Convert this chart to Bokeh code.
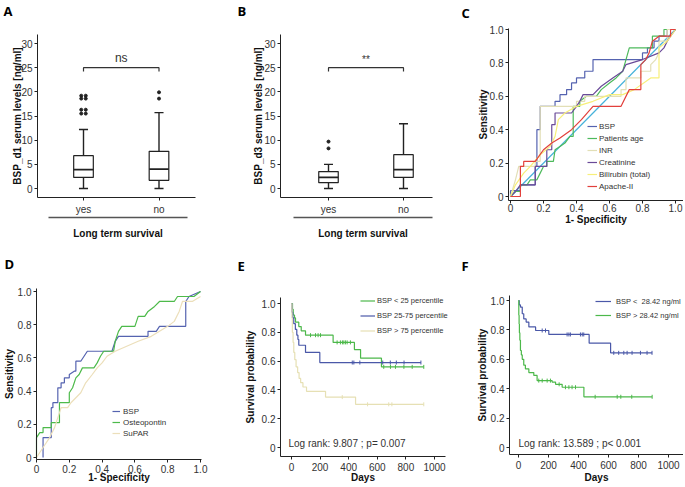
import numpy as np
from bokeh.plotting import figure
from bokeh.layouts import row, column
from bokeh.models import Range1d, LinearAxis, FixedTicker, Legend, LegendItem, Label
from bokeh.embed import file_html
from bokeh.resources import INLINE

FONT = "Liberation Sans"
LFONT = "Open Sans"
INK = "#222222"

# ---------------- data: A / B box plots ----------------
groups = ["yes", "no"]
a_low = [0.0, 0.0]
a_q1 = [2.3, 1.7]
a_med = [3.9, 4.0]
a_q3 = [6.8, 7.7]
a_high = [12.2, 15.7]
a_out_yes = [15.5, 16.3, 18.6, 19.2]
a_out_no = [18.6, 19.9]

b_low = [0.0, 0.0]
b_q1 = [1.2, 2.3]
b_med = [2.3, 3.9]
b_q3 = [3.5, 7.0]
b_high = [5.0, 13.4]
b_out_yes = [8.3, 9.7]
b_out_no = []
box_ticks = [0, 5, 10, 15, 20, 25, 30]

# ---------------- data: C ROC ----------------
c_bsp = [(0, 0), (0, 0.035), (0.06, 0.035), (0.06, 0.07), (0.15, 0.07), (0.15, 0.18), (0.16, 0.18),
         (0.16, 0.4), (0.18, 0.4), (0.18, 0.54), (0.27, 0.54), (0.27, 0.57), (0.3, 0.57), (0.3, 0.61),
         (0.34, 0.61), (0.34, 0.64), (0.37, 0.64), (0.37, 0.68), (0.4, 0.68), (0.4, 0.71), (0.45, 0.71),
         (0.45, 0.75), (0.5, 0.75), (0.5, 0.82), (0.8, 0.82), (0.8, 0.86), (0.83, 0.86), (0.83, 0.89),
         (0.87, 0.89), (0.87, 0.93), (0.9, 0.93), (0.9, 0.96), (0.95, 0.96), (0.95, 1.0), (1.0, 1.0)]
c_age = [(0, 0), (0.03, 0.03), (0.06, 0.03), (0.06, 0.07), (0.1, 0.07), (0.12, 0.1), (0.16, 0.1),
         (0.18, 0.14), (0.2, 0.18), (0.22, 0.18), (0.22, 0.21), (0.26, 0.21), (0.27, 0.28), (0.3, 0.3),
         (0.33, 0.32), (0.36, 0.36), (0.38, 0.36), (0.38, 0.54), (0.42, 0.54), (0.42, 0.57), (0.46, 0.6),
         (0.52, 0.6), (0.55, 0.64), (0.6, 0.68), (0.64, 0.71), (0.68, 0.75), (0.7, 0.82), (0.72, 0.89),
         (0.86, 0.89), (0.86, 0.96), (0.93, 0.96), (0.93, 1.0), (1.0, 1.0)]
c_inr = [(0, 0), (0.03, 0.1), (0.05, 0.18), (0.15, 0.18), (0.15, 0.21), (0.18, 0.21), (0.18, 0.54),
         (0.4, 0.54), (0.4, 0.57), (0.45, 0.57), (0.45, 0.6), (0.67, 0.6), (0.67, 0.64), (0.7, 0.64),
         (0.7, 0.71), (0.79, 0.71), (0.79, 0.75), (0.85, 0.75), (0.85, 0.79), (0.88, 0.82), (0.9, 0.86),
         (0.9, 0.93), (0.95, 0.93), (0.95, 1.0), (1.0, 1.0)]
c_crea = [(0, 0), (0.03, 0.03), (0.06, 0.07), (0.15, 0.07), (0.15, 0.18), (0.22, 0.18), (0.22, 0.28),
          (0.25, 0.28), (0.25, 0.43), (0.27, 0.43), (0.27, 0.5), (0.37, 0.5), (0.4, 0.54), (0.42, 0.57),
          (0.44, 0.61), (0.5, 0.61), (0.55, 0.66), (0.62, 0.71), (0.68, 0.75), (0.7, 0.79), (0.8, 0.82),
          (0.9, 0.86), (0.93, 0.89), (0.95, 0.93), (0.97, 0.96), (1.0, 1.0)]
c_bili = [(0, 0), (0.03, 0.07), (0.08, 0.14), (0.12, 0.18), (0.18, 0.25), (0.24, 0.3), (0.27, 0.36),
          (0.29, 0.46), (0.33, 0.5), (0.4, 0.54), (0.5, 0.57), (0.6, 0.61), (0.68, 0.61), (0.75, 0.64),
          (0.85, 0.71), (0.9, 0.71), (0.9, 0.89), (0.95, 0.93), (1.0, 1.0)]
c_apache = [(0, 0), (0.06, 0), (0.06, 0.18), (0.08, 0.18), (0.08, 0.21), (0.15, 0.21), (0.2, 0.28),
            (0.25, 0.32), (0.3, 0.35), (0.37, 0.4), (0.43, 0.46), (0.5, 0.54), (0.67, 0.54), (0.72, 0.64),
            (0.79, 0.64), (0.79, 0.79), (0.82, 0.82), (0.84, 0.86), (0.86, 0.93), (0.9, 0.96), (0.97, 0.96),
            (0.97, 1.0), (1.0, 1.0)]
c_ref = [(0, 0), (1, 1)]
c_names = ["BSP", "Patients age", "INR", "Creatinine", "Bilirubin (total)", "Apache-II"]

# ---------------- data: D ROC ----------------
d_bsp = [(0.04, 0), (0.04, 0.12), (0.09, 0.12), (0.09, 0.3), (0.1, 0.3), (0.1, 0.33), (0.13, 0.33),
         (0.13, 0.42), (0.15, 0.42), (0.15, 0.45), (0.17, 0.45), (0.17, 0.48), (0.2, 0.48), (0.2, 0.5),
         (0.23, 0.52), (0.24, 0.52), (0.24, 0.58), (0.27, 0.58), (0.29, 0.61), (0.31, 0.64), (0.46, 0.64),
         (0.48, 0.7), (0.5, 0.73), (0.68, 0.73), (0.68, 0.76), (0.73, 0.76), (0.75, 0.79), (0.91, 0.79),
         (0.91, 0.94), (0.93, 0.97), (1.0, 1.0)]
d_opn = [(0, 0), (0, 0.12), (0.02, 0.15), (0.04, 0.15), (0.04, 0.18), (0.09, 0.18), (0.09, 0.21),
         (0.14, 0.21), (0.14, 0.33), (0.2, 0.33), (0.2, 0.39), (0.22, 0.42), (0.24, 0.48), (0.26, 0.5),
         (0.28, 0.54), (0.35, 0.54), (0.37, 0.57), (0.39, 0.61), (0.41, 0.64), (0.47, 0.64), (0.48, 0.7),
         (0.5, 0.76), (0.52, 0.79), (0.6, 0.79), (0.62, 0.85), (0.66, 0.85), (0.68, 0.88), (0.72, 0.91),
         (0.75, 0.94), (0.84, 0.94), (0.86, 0.97), (0.96, 0.97), (1.0, 1.0)]
d_supar = [(0, 0), (0.04, 0.06), (0.08, 0.12), (0.11, 0.18), (0.13, 0.24), (0.15, 0.3), (0.19, 0.3),
           (0.21, 0.33), (0.24, 0.36), (0.27, 0.39), (0.3, 0.45), (0.34, 0.5), (0.37, 0.54), (0.4, 0.57),
           (0.43, 0.61), (0.48, 0.64), (0.55, 0.67), (0.62, 0.7), (0.7, 0.73), (0.75, 0.76), (0.8, 0.79),
           (0.84, 0.82), (0.87, 0.88), (0.89, 0.94), (0.95, 0.94), (1.0, 0.97)]
d_names = ["BSP", "Osteopontin", "SuPAR"]
roc_ticks = [0, 0.2, 0.4, 0.6, 0.8, 1.0]

# ---------------- data: E Kaplan-Meier (days, survival) ----------------
e_g_t = [0, 7, 12, 21, 28, 51, 68, 98, 291, 440, 483, 629, 925]
e_g_s = [1.0, 0.96, 0.92, 0.9, 0.87, 0.84, 0.81, 0.78, 0.73, 0.68, 0.62, 0.56, 0.56]
e_g_c = [133, 168, 186, 203, 319, 342, 356, 366, 377, 389, 412, 645, 692, 727, 786, 844, 925]
e_b_t = [0, 3, 9, 16, 27, 37, 45, 51, 98, 198, 905]
e_b_s = [1.0, 0.94, 0.9, 0.86, 0.82, 0.78, 0.75, 0.71, 0.66, 0.59, 0.59]
e_b_c = [425, 436, 478, 638, 691, 733, 787, 905]
e_y_t = [0, 3, 6, 11, 16, 23, 32, 43, 53, 64, 80, 105, 238, 448, 925]
e_y_s = [1.0, 0.9, 0.8, 0.73, 0.66, 0.61, 0.56, 0.52, 0.48, 0.45, 0.42, 0.39, 0.35, 0.3, 0.3]
e_y_c = [355, 532, 680, 702, 925]
e_names = ["BSP < 25 percentile", "BSP 25-75 percentile", "BSP > 75 percentile"]

# ---------------- data: F Kaplan-Meier ----------------
f_b_t = [0, 5, 13, 25, 35, 51, 69, 114, 202, 471, 614, 891]
f_b_s = [1.0, 0.97, 0.955, 0.91, 0.875, 0.853, 0.82, 0.796, 0.769, 0.71, 0.644, 0.644]
f_b_c = [158, 180, 324, 336, 346, 413, 425, 435, 635, 668, 702, 724, 757, 813, 857, 890]
f_g_t = [0, 2, 4, 6, 9, 13, 19, 25, 35, 46, 69, 102, 124, 224, 247, 291, 436, 891]
f_g_s = [1.0, 0.9, 0.84, 0.78, 0.73, 0.66, 0.63, 0.6, 0.56, 0.535, 0.51, 0.49, 0.455, 0.445, 0.43,
         0.41, 0.345, 0.345]
f_g_c = [135, 158, 191, 213, 271, 313, 336, 357, 380, 511, 658, 682, 755, 891]
f_names = ["BSP <  28.42 ng/ml", "BSP > 28.42 ng/ml"]
km_xticks = [0, 200, 400, 600, 800, 1000]


# ---------------- layout geometry (page pixels) ----------------
class Geo:
    """Maps page pixels to data units for one panel whose canvas is its plot frame."""

    def __init__(self, ox, oy, w, h, x0, bx, y0, by):
        self.ox, self.oy, self.w, self.h = ox, oy, w, h
        self.x0, self.bx, self.y0, self.by = x0, bx, y0, by

    def xd(self, px):
        return (px - self.x0) / self.bx

    def yd(self, py):
        return (self.y0 - py) / self.by

    def xr(self):
        return (self.xd(self.ox), self.xd(self.ox + self.w))

    def yr(self):
        return (self.yd(self.oy + self.h), self.yd(self.oy))


gA = Geo(0, 0, 225, 248, 7.5, 75.5, 188, 145 / 30)
gB = Geo(225, 0, 229, 248, 253, 75, 188, 145 / 30)
gC = Geo(454, 0, 229, 248, 510, 165, 196, 167)
gD = Geo(0, 248, 225, 237, 36, 164, 457, 166)
gE = Geo(225, 248, 229, 237, 291, 0.143, 447, 144)
gF = Geo(454, 248, 229, 237, 518, 0.15, 447, 147)


def make(g):
    p = figure(width=g.w, height=g.h, x_range=Range1d(*g.xr()), y_range=Range1d(*g.yr()),
               output_backend="svg", toolbar_location=None, title=None, min_border=0)
    p.min_border_left = p.min_border_right = p.min_border_top = p.min_border_bottom = 0
    p.xgrid.visible = False
    p.ygrid.visible = False
    p.outline_line_color = None
    return p


def style_axis(ax, s1, s2):
    ax.axis_line_color = INK
    ax.axis_line_width = 1
    ax.major_tick_line_color = INK
    ax.minor_tick_line_color = None
    ax.minor_tick_out = 0
    ax.minor_tick_in = 0
    ax.major_tick_in = 0
    ax.major_tick_out = 3
    ax.major_label_standoff = s1
    ax.major_label_text_font = FONT
    ax.major_label_text_font_size = "10px"
    ax.major_label_text_color = "#333333"
    ax.axis_label_text_font = FONT
    ax.axis_label_text_font_size = "10px"
    ax.axis_label_text_font_style = "bold"
    ax.axis_label_text_color = "#111111"
    ax.axis_label_standoff = s2


def axes(p, g, yx, ytop, ybot, xy, xl, xr, xticks, yticks, xlab, ylab, xs1, xs2, ys2):
    yax = p.yaxis[0]
    yax.fixed_location = g.xd(yx)
    yax.bounds = (g.yd(ybot), g.yd(ytop))
    yax.ticker = FixedTicker(ticks=yticks)
    yax.axis_label = ylab
    style_axis(yax, 2, ys2)
    xax = p.xaxis[0]
    xax.fixed_location = g.yd(xy)
    xax.bounds = (g.xd(xl), g.xd(xr))
    xax.ticker = FixedTicker(ticks=xticks)
    xax.axis_label = xlab
    style_axis(xax, xs1, xs2)
    return xax, yax


def letter(p, g, txt, px, py):
    p.add_layout(Label(x=g.xd(px), y=g.yd(py), text=txt, text_baseline="top", text_align="left",
                       text_font=LFONT, text_font_size="13px", text_font_style="bold",
                       text_color="black"))


def legend(p, g, items, px, pbottom, gw, gh, sp, standoff, size="8px"):
    lg = Legend(items=items, location=(px - g.ox, g.oy + g.h - pbottom), padding=0, margin=0,
                spacing=sp, glyph_width=gw, glyph_height=gh, label_height=gh, label_standoff=standoff,
                label_text_font=FONT, label_text_font_size=size, label_text_color="#333333",
                background_fill_alpha=0, border_line_alpha=0)
    p.add_layout(lg)


# ---------------- A / B ----------------
def box_panel(g, letter_xy, letter_txt, ylab, low, q1, med, q3, high, out_yes, out_no, sig, sig_size,
              yx, xr_px, line_px, ys2):
    p = make(g)
    xs = [i + 1 for i in range(len(groups))]
    p.segment(xs, low, xs, q1, line_color=INK, line_width=1.4)
    p.segment(xs, q3, xs, high, line_color=INK, line_width=1.4)
    p.vbar(x=xs, width=0.26, bottom=q1, top=q3, fill_color="white", line_color=INK, line_width=1.2)
    p.segment([x - 0.13 for x in xs], med, [x + 0.13 for x in xs], med, line_color=INK, line_width=1.6)
    p.segment([x - 0.06 for x in xs], low, [x + 0.06 for x in xs], low, line_color=INK, line_width=1.4)
    p.segment([x - 0.06 for x in xs], high, [x + 0.06 for x in xs], high, line_color=INK, line_width=1.4)
    if len(out_yes) > 2:
        ox = [xs[0] - 0.03] * len(out_yes) + [xs[0] + 0.03] * len(out_yes)
        oy = out_yes + out_yes
    else:
        ox = [xs[0]] * len(out_yes)
        oy = list(out_yes)
    ox += [xs[1]] * len(out_no)
    oy += list(out_no)
    p.scatter(ox, oy, size=3, color=INK)
    p.line([xs[0], xs[0], xs[1], xs[1]], [24.2, 25, 25, 24.2], line_color="#333333", line_width=1.2)
    p.add_layout(Label(x=(xs[0] + xs[1]) / 2, y=25.6, text=sig, text_align="center",
                       text_baseline="bottom", text_font=FONT, text_font_size=sig_size,
                       text_color="#333333"))
    xax, yax = axes(p, g, yx, 34, 197, 197, yx, xr_px, xs, box_ticks, "", ylab, 3, 0, ys2)
    xax.major_label_overrides = {x: gname for x, gname in zip(xs, groups)}
    ax2 = LinearAxis(ticker=FixedTicker(ticks=[]), fixed_location=g.yd(217),
                     bounds=(g.xd(line_px[0]), g.xd(line_px[1])), axis_label="Long term survival")
    p.add_layout(ax2, "below")
    style_axis(ax2, 0, 10)
    ax2.major_tick_out = 0
    ax2.axis_line_color = "#555555"
    ax2.axis_line_width = 1.3
    letter(p, g, letter_txt, *letter_xy)
    return p


fA = box_panel(gA, (3, 1), "A", "BSP_d1 serum levels [ng/ml]", a_low, a_q1, a_med, a_q3, a_high,
               a_out_yes, a_out_no, "ns", "12px", 37, 195, (48, 187), -5)
fB = box_panel(gB, (237, 1), "B", "BSP_d3 serum levels [ng/ml]", b_low, b_q1, b_med, b_q3, b_high,
               b_out_yes, b_out_no, "**", "10px", 280, 432, (293, 432), -3)


def draw(p, pts, color, width=1.2):
    return p.line([q[0] for q in pts], [q[1] for q in pts], line_color=color, line_width=width)


def roc_labels(xax, yax):
    for ax in (xax, yax):
        ax.major_label_overrides = {0: "0", 1: "1.0"}


# ---------------- C ----------------
fC = make(gC)
draw(fC, c_ref, "#46b2da")
c_cols = ["#5563b0", "#4dba5c", "#e2dfb6", "#6a4a98", "#f7ef7a", "#e2403c"]
c_curves = [c_bsp, c_age, c_inr, c_crea, c_bili, c_apache]
c_r = [draw(fC, pts, col) for pts, col in zip(c_curves, c_cols)]
legend(fC, gC, [LegendItem(label=n, renderers=[r]) for n, r in zip(c_names, c_r)],
       587, 192, 10, 12, 0, 2)
roc_labels(*axes(fC, gC, 508, 28, 200, 200, 508, 683, roc_ticks, roc_ticks,
                 "1- Specificity", "Sensitivity", 0, -1, -2))
letter(fC, gC, "C", 461, 3)

# ---------------- D ----------------
fD = make(gD)
d_cols = ["#5563b0", "#4dba4a", "#ecdfba"]
d_r = [draw(fD, pts, col) for pts, col in zip([d_bsp, d_opn, d_supar], d_cols)]
legend(fD, gD, [LegendItem(label=n, renderers=[r]) for n, r in zip(d_names, d_r)],
       112, 438, 8, 10, 1, 3)
roc_labels(*axes(fD, gD, 36, 288, 459, 459, 36, 201, roc_ticks, roc_ticks,
                 "1- Specificity", "Sensitivity", 2, -4, 0))
letter(fD, gD, "D", 4, 254)


# ---------------- KM ----------------
def km(p, t, s, color, cens):
    r = p.step(t, s, mode="after", line_color=color, line_width=1.2)
    ta = np.array(t, dtype=float)
    sa = np.array(s, dtype=float)
    idx = np.searchsorted(ta, np.array(cens, dtype=float), side="right") - 1
    p.scatter(cens, sa[idx], marker="dash", angle=np.pi / 2, size=4, line_color=color, line_width=1)
    return r


GREEN = "#4cb84a"
BLUE = "#4a58a8"
BEIGE = "#e6e0b4"

fE = make(gE)
rg = km(fE, e_g_t, e_g_s, GREEN, e_g_c)
rb = km(fE, e_b_t, e_b_s, BLUE, e_b_c)
ry = km(fE, e_y_t, e_y_s, BEIGE, e_y_c)
legend(fE, gE, [LegendItem(label=n, renderers=[r]) for n, r in zip(e_names, [rg, rb, ry])],
       360, 338, 15, 15, 0, 2, "7.5px")
fE.add_layout(Label(x=gE.xd(288), y=gE.yd(443), text="Log rank: 9.807 ; p= 0.007", text_font=FONT,
                    text_font_size="10px", text_color="#333333", text_baseline="middle"))
xe, ye = axes(fE, gE, 280, 297, 456, 456, 280, 445, km_xticks, roc_ticks,
              "Days", "Survival probability", 3, -2, 3)
ye.major_label_overrides = {0: "0", 1: "1.0"}
letter(fE, gE, "E", 237, 256)

fF = make(gF)
rb2 = km(fF, f_b_t, f_b_s, BLUE, f_b_c)
rg2 = km(fF, f_g_t, f_g_s, GREEN, f_g_c)
legend(fF, gF, [LegendItem(label=n, renderers=[r]) for n, r in zip(f_names, [rb2, rg2])],
       595, 322, 16, 14, 0, 5, "7.5px")
fF.add_layout(Label(x=gF.xd(518), y=gF.yd(443), text="Log rank: 13.589 ; p< 0.001", text_font=FONT,
                    text_font_size="10px", text_color="#333333", text_baseline="middle"))
xf, yf = axes(fF, gF, 509, 295, 454, 454, 509, 683, km_xticks, roc_ticks,
              "Days", "Survival probability", 3, 0, 0)
yf.major_label_overrides = {0: "0", 1: "1.0"}
letter(fF, gF, "F", 461, 256)

layout = column(row(fA, fB, fC), row(fD, fE, fF))
open("out.html", "w").write(file_html(layout, INLINE))
